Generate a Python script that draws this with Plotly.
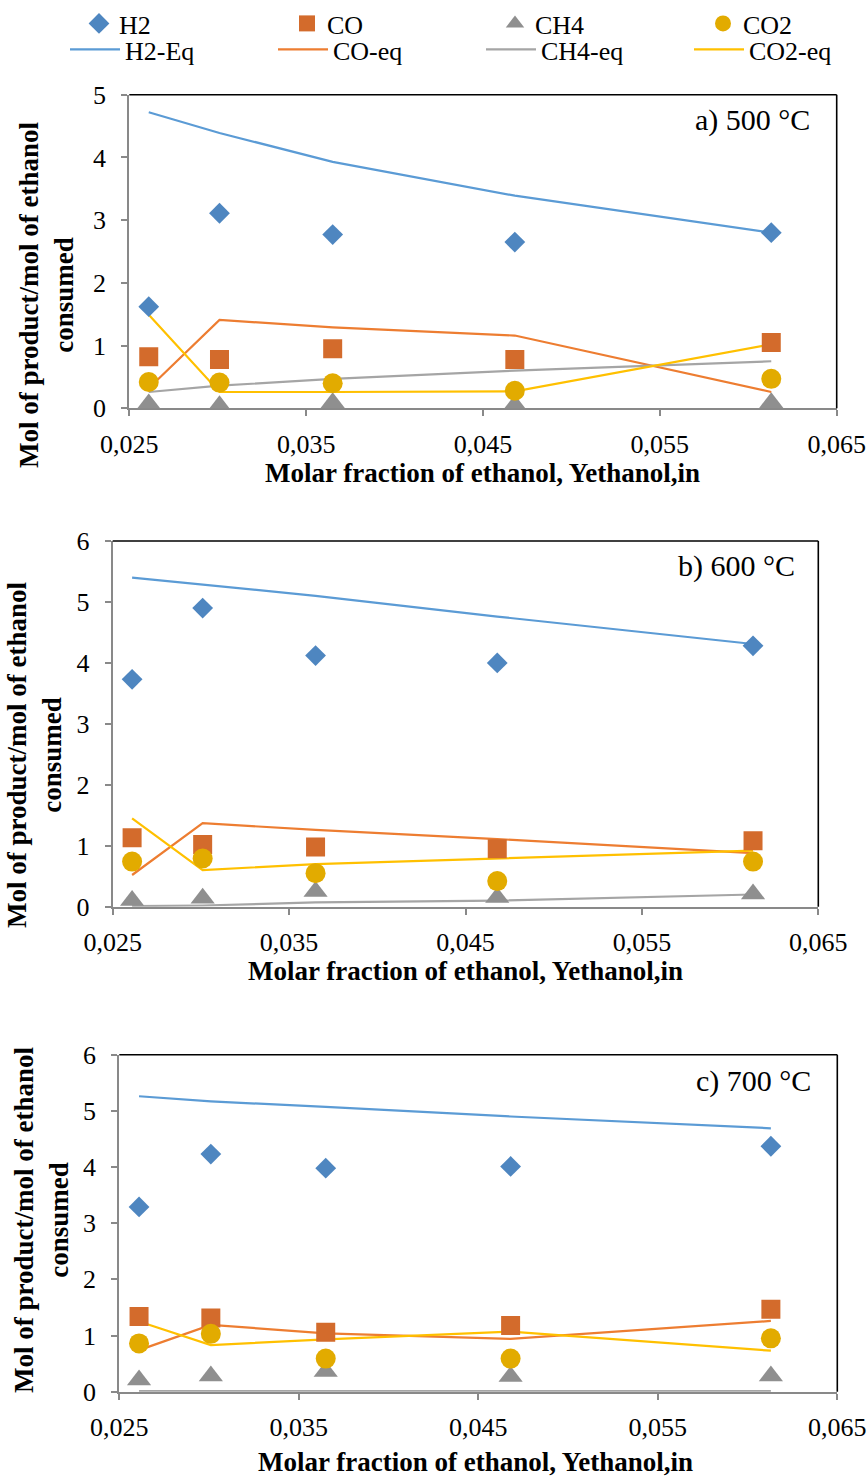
import plotly.graph_objects as go

# Molar fraction of ethanol at the inlet (shared by all three temperatures)
x_frac = [0.0261, 0.0301, 0.0365, 0.0468, 0.0613]

# 500 °C – measured products
h2_500 = [1.62, 3.11, 2.77, 2.65, 2.80]
co_500 = [0.82, 0.78, 0.95, 0.78, 1.05]
ch4_500 = [0.07, 0.04, 0.09, 0.05, 0.09]
co2_500 = [0.42, 0.41, 0.40, 0.28, 0.47]
# 500 °C – equilibrium
h2eq_500 = [4.72, 4.39, 3.93, 3.39, 2.80]
coeq_500 = [0.32, 1.41, 1.29, 1.16, 0.26]
ch4eq_500 = [0.26, 0.36, 0.47, 0.60, 0.75]
co2eq_500 = [1.49, 0.26, 0.26, 0.27, 1.02]

# 600 °C – measured products
h2_600 = [3.73, 4.90, 4.12, 4.00, 4.28]
co_600 = [1.13, 1.02, 0.98, 0.95, 1.08]
ch4_600 = [0.10, 0.14, 0.25, 0.15, 0.21]
co2_600 = [0.74, 0.79, 0.55, 0.42, 0.74]
# 600 °C – equilibrium
h2eq_600 = [5.40, 5.28, 5.10, 4.76, 4.31]
coeq_600 = [0.52, 1.37, 1.26, 1.11, 0.88]
ch4eq_600 = [0.01, 0.02, 0.07, 0.10, 0.20]
co2eq_600 = [1.45, 0.60, 0.70, 0.79, 0.92]

# 700 °C – measured products
h2_700 = [3.29, 4.23, 3.98, 4.01, 4.37]
co_700 = [1.34, 1.31, 1.06, 1.18, 1.47]
ch4_700 = [0.21, 0.28, 0.36, 0.27, 0.28]
co2_700 = [0.86, 1.03, 0.59, 0.59, 0.95]
# 700 °C – equilibrium
h2eq_700 = [5.26, 5.17, 5.07, 4.90, 4.69]
coeq_700 = [0.74, 1.19, 1.04, 0.94, 1.26]
ch4eq_700 = [0.01, 0.01, 0.01, 0.01, 0.01]
co2eq_700 = [1.25, 0.83, 0.93, 1.07, 0.73]

panel_labels = ["a) 500 °C", "b) 600 °C", "c) 700 °C"]
y_max = [5, 6, 6]
x_ticks = [0.025, 0.035, 0.045, 0.055, 0.065]

species = ["H2", "CO", "CH4", "CO2"]
eq_names = ["H2-Eq", "CO-eq", "CH4-eq", "CO2-eq"]
marker_colors = ["#4E86C0", "#D36B2C", "#8F8F8F", "#E2AB00"]
line_colors = ["#5B9BD5", "#ED7D31", "#A5A5A5", "#FFC000"]
symbols = ["diamond", "square", "triangle-up", "circle"]
marker_sizes = [16, 19, 21, 20]

measured = [
    [h2_500, co_500, ch4_500, co2_500],
    [h2_600, co_600, ch4_600, co2_600],
    [h2_700, co_700, ch4_700, co2_700],
]
equilibrium = [
    [h2eq_500, coeq_500, ch4eq_500, co2eq_500],
    [h2eq_600, coeq_600, ch4eq_600, co2eq_600],
    [h2eq_700, coeq_700, ch4eq_700, co2eq_700],
]

W, H = 868, 1476
# plot areas in pixels: (left, right, top, bottom)
areas = [
    (129.3, 836.7, 94.7, 408.3),
    (112.7, 818.3, 541.0, 906.7),
    (119.3, 837.3, 1054.7, 1391.7),
]

FONT = "Liberation Serif"
AXIS_GRAY = "#898989"

fig = go.Figure()

for p in range(3):
    sfx = "" if p == 0 else str(p + 1)
    xa, ya = "x" + sfx, "y" + sfx
    for k in range(4):
        fig.add_trace(go.Scatter(
            x=x_frac, y=equilibrium[p][k], mode="lines", name=eq_names[k],
            line=dict(color=line_colors[k], width=2.2),
            xaxis=xa, yaxis=ya, legend="legend2",
            legendgroup=eq_names[k], showlegend=(p == 0),
            legendwidth=(143 if k < 3 else 80),
        ))
    for k in range(4):
        fig.add_trace(go.Scatter(
            x=x_frac, y=measured[p][k], mode="markers", name=species[k],
            marker=dict(symbol=symbols[k], size=marker_sizes[k],
                        color=marker_colors[k], line=dict(width=0)),
            xaxis=xa, yaxis=ya, legend="legend",
            legendgroup=species[k], showlegend=(p == 0),
            legendwidth=(163 if k < 3 else 60),
        ))

layout = dict(
    width=W, height=H,
    margin=dict(l=0, r=0, t=0, b=0, autoexpand=False),
    paper_bgcolor="white", plot_bgcolor="white",
    font=dict(family=FONT, size=26, color="black"),
    separators=", ",
    legend=dict(
        orientation="h", x=79 / W, y=1.0, xanchor="left", yanchor="top",
        bgcolor="rgba(0,0,0,0)", itemwidth=30,
        font=dict(family=FONT, size=26), itemclick=False, traceorder="normal",
    ),
    legend2=dict(
        orientation="h", x=65 / W, y=1 - 26 / H, xanchor="left", yanchor="top",
        bgcolor="rgba(0,0,0,0)", itemwidth=50,
        font=dict(family=FONT, size=26), itemclick=False, traceorder="normal",
    ),
)

shapes = []
annotations = []
for p, (l, r, t, b) in enumerate(areas):
    sfx = "" if p == 0 else str(p + 1)
    layout["xaxis" + sfx] = dict(
        domain=[l / W, r / W], anchor="y" + sfx, range=[0.025, 0.065],
        tickvals=x_ticks, tickformat=".3f", showgrid=False, zeroline=False,
        showline=True, linecolor=AXIS_GRAY, linewidth=2,
        ticks="outside", ticklen=6, tickcolor=AXIS_GRAY, tickwidth=1.5,
        tickfont=dict(family=FONT, size=26), ticklabelstandoff=5,
        layer="below traces",
    )
    layout["yaxis" + sfx] = dict(
        domain=[1 - b / H, 1 - t / H], anchor="x" + sfx, range=[0, y_max[p]],
        dtick=1, showgrid=False, zeroline=False,
        showline=True, linecolor=AXIS_GRAY, linewidth=2,
        ticks="outside", ticklen=6, tickcolor=AXIS_GRAY, tickwidth=1.5,
        tickfont=dict(family=FONT, size=26), ticklabelstandoff=10,
        layer="below traces",
    )
    xd, yd = "x" + sfx + " domain", "y" + sfx + " domain"
    # dark frame on the top and right sides of each plot area
    shapes.append(dict(type="line", xref=xd, yref=yd, x0=0, x1=1, y0=1, y1=1,
                       line=dict(color="black", width=1.6), layer="above"))
    shapes.append(dict(type="line", xref=xd, yref=yd, x0=1, x1=1, y0=0, y1=1,
                       line=dict(color="black", width=1.6), layer="above"))
    annotations.append(dict(
        xref="paper", yref="paper", x=[812, 797, 813][p] / W,
        y=1 - [120, 566, 1081][p] / H, xanchor="right", yanchor="middle",
        text=panel_labels[p], showarrow=False, font=dict(family=FONT, size=30),
    ))

# axis titles
ytitle_pos = [(46, 295), (34, 755), (41, 1220)]
xtitle_pos = [(482, 473), (465, 971), (475, 1462)]
for (xt, yt) in ytitle_pos:
    annotations.append(dict(
        xref="paper", yref="paper", x=xt / W, y=1 - yt / H,
        xanchor="center", yanchor="middle", textangle=-90, showarrow=False,
        text="<b>Mol of product/mol of ethanol</b><br><b>consumed</b>",
        font=dict(family=FONT, size=27),
    ))
for (xt, yt) in xtitle_pos:
    annotations.append(dict(
        xref="paper", yref="paper", x=xt / W, y=1 - yt / H,
        xanchor="center", yanchor="middle", showarrow=False,
        text="<b>Molar fraction of ethanol, Yethanol,in</b>",
        font=dict(family=FONT, size=27),
    ))

layout["shapes"] = shapes
layout["annotations"] = annotations
fig.update_layout(**layout)

fig.write_html("out.html")
